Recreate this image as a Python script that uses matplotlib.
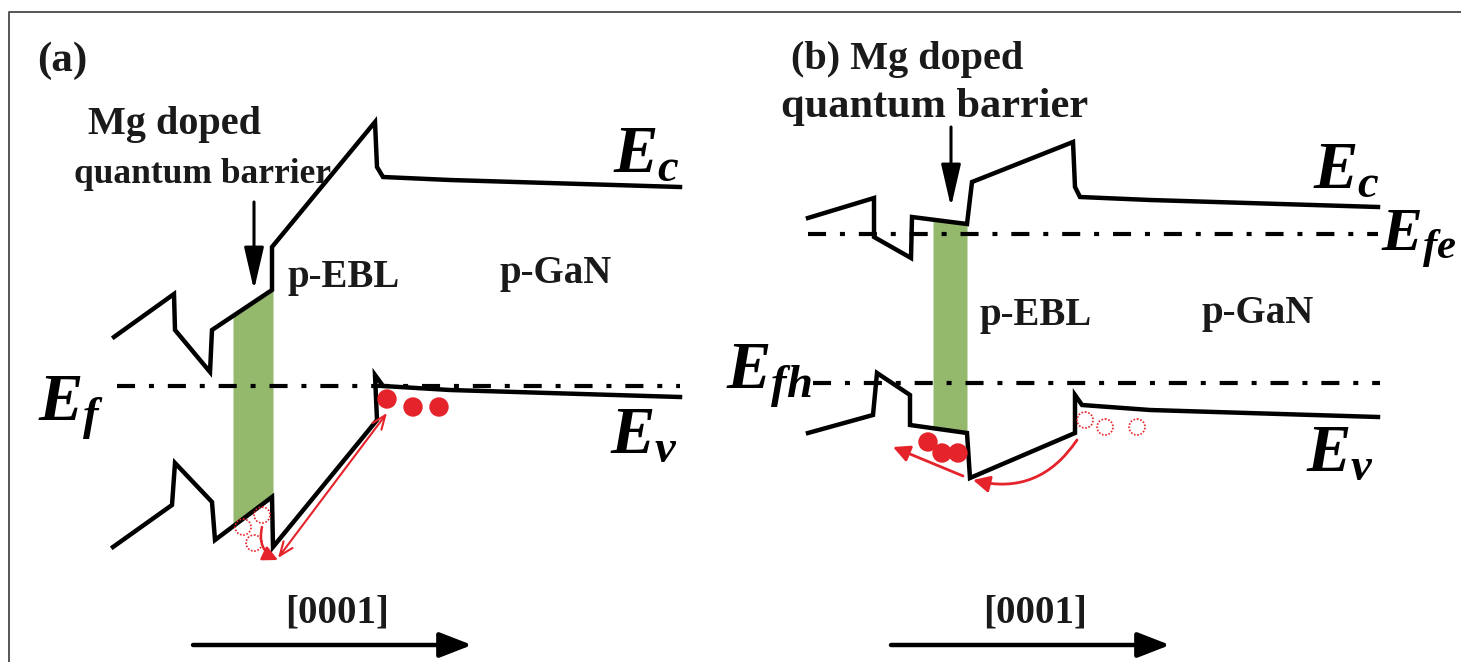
import numpy as np
import matplotlib
matplotlib.use("Agg")
import matplotlib.pyplot as plt
from matplotlib.patches import Circle

plt.rcParams['font.family'] = ['Liberation Serif', 'DejaVu Serif']
plt.rcParams['font.weight'] = 'bold'
plt.rcParams['mathtext.fontset'] = 'custom'
plt.rcParams['mathtext.it'] = 'Liberation Serif:italic:bold'
plt.rcParams['mathtext.rm'] = 'Liberation Serif:bold'
plt.rcParams['lines.scale_dashes'] = False

# band edges (pixel units, y down)
ec_a_x = [114, 174, 175, 210, 212, 272, 272, 375, 377, 383, 450, 680]
ec_a_y = [337, 294, 330, 372, 330, 290, 247, 122, 167, 177, 180, 187]
ev_a_x = [113, 172, 175, 212, 215, 272, 273, 377, 375, 383, 450, 680]
ev_a_y = [547, 505, 463, 502, 540, 497, 547, 420, 375, 386, 390, 397]
ef_a_x = [117, 680]
ef_a_y = [386, 386]

ec_b_x = [808, 874, 874, 911, 912, 967, 972, 1073, 1075, 1080, 1150, 1378]
ec_b_y = [218, 198, 237, 258, 217, 224, 182, 142, 187, 197, 200, 207]
ev_b_x = [808, 873, 877, 910, 910, 967, 970, 1075, 1075, 1082, 1150, 1378]
ev_b_y = [433, 415, 373, 395, 425, 433, 478, 433, 395, 405, 410, 417]
efe_b_x = [808, 1378]
efe_b_y = [234, 234]
efh_b_x = [813, 1380]
efh_b_y = [383, 383]

# Mg doped quantum barrier regions
qb_a_x = [233, 273]
qb_a_top = [317, 290]
qb_a_bot = [525, 497]
qb_b_x = [933, 967]
qb_b_top = [220, 224]
qb_b_bot = [428, 433]

# holes
holes_a = [(387, 399), (413, 407), (439, 407)]
empty_a = [(243, 527), (262, 515), (254, 543)]
holes_b = [(928, 442), (942, 453), (958, 453)]
empty_b = [(1085, 420), (1105, 427), (1137, 427)]

black = 'black'
red = '#e5232b'
green = '#94b86c'

fig = plt.figure(figsize=(14.61, 6.62), dpi=100)
ax = fig.add_axes([0, 0, 1, 1])
ax.set_xlim(0, 1461)
ax.set_ylim(662, 0)
ax.axis('off')

# frame
ax.plot([9, 9, 1461], [662, 12, 12], color='#555555', lw=1.4)

# green barrier
ax.fill_between(qb_a_x, qb_a_top, qb_a_bot, color=green, lw=0, zorder=1)
ax.fill_between(qb_b_x, qb_b_top, qb_b_bot, color=green, lw=0, zorder=1)

band_kw = dict(color=black, lw=3.2, solid_joinstyle='miter', zorder=3)
ax.plot(ec_a_x, ec_a_y, **band_kw)
ax.plot(ev_a_x, ev_a_y, **band_kw)
ax.plot(ec_b_x, ec_b_y, **band_kw)
ax.plot(ev_b_x, ev_b_y, **band_kw)

dd = dict(color=black, lw=3.0, dashes=(13, 10, 3.6, 10), zorder=2)
ax.plot(ef_a_x, ef_a_y, **dd)
ax.plot(efe_b_x, efe_b_y, **dd)
ax.plot(efh_b_x, efh_b_y, **dd)

for (x, y) in holes_a + holes_b:
    ax.add_patch(Circle((x, y), 9, color=red, zorder=4))
for (x, y) in empty_a + empty_b:
    ax.add_patch(Circle((x, y), 8, fill=False, ec=red, lw=1.2, ls=(0, (1.2, 1.2)), zorder=4))

# red arrows
ax.annotate('', xy=(387, 413), xytext=(278, 558),
            arrowprops=dict(arrowstyle='<->,head_length=0.5,head_width=0.2', color=red, lw=1.5,
                            shrinkA=0, shrinkB=0, mutation_scale=20))
ax.annotate('', xy=(278, 560), xytext=(262, 527),
            arrowprops=dict(arrowstyle='-|>,head_length=0.5,head_width=0.25', color=red, lw=1.8,
                            shrinkA=0, shrinkB=0, mutation_scale=18,
                            connectionstyle='arc3,rad=0.4'))
ax.annotate('', xy=(893, 447), xytext=(963, 476),
            arrowprops=dict(arrowstyle='-|>,head_length=0.5,head_width=0.25', color=red, lw=2,
                            shrinkA=0, shrinkB=0, mutation_scale=20))
ax.annotate('', xy=(973, 480), xytext=(1077, 440),
            arrowprops=dict(arrowstyle='-|>,head_length=0.5,head_width=0.25', color=red, lw=2,
                            shrinkA=0, shrinkB=0, mutation_scale=20,
                            connectionstyle='arc3,rad=-0.35'))

# black arrows
vk = dict(arrowstyle='-|>,head_length=1.3,head_width=0.3', color=black, lw=2.2,
          shrinkA=0, shrinkB=0, mutation_scale=20)
ax.annotate('', xy=(254, 290), xytext=(254, 202), arrowprops=vk)
ax.annotate('', xy=(951, 207), xytext=(951, 127), arrowprops=vk)
hk = dict(arrowstyle='-|>,head_length=0.9,head_width=0.35', color=black, lw=3.2,
          shrinkA=0, shrinkB=0, mutation_scale=22)
ax.annotate('', xy=(472, 645), xytext=(193, 645), arrowprops=hk)
ax.annotate('', xy=(1170, 645), xytext=(891, 645), arrowprops=hk)

# text
tk = dict(fontsize=28, fontweight='bold', color='#1a1a1a', ha='center', va='baseline')
ax.text(62, 71, '(a)', **dict(tk, fontsize=31))
ax.text(174, 134, 'Mg doped', **dict(tk, fontsize=29))
ax.text(202, 183, 'quantum barrier', **dict(tk, fontsize=25.5))
ax.text(344, 287, 'p-EBL', **tk)
ax.text(556, 283, 'p-GaN', **tk)
ax.text(337, 623, '[0001]', **tk)

tb = dict(tk, fontsize=29)
ax.text(907, 69, '(b) Mg doped', **tb)
ax.text(935, 117, 'quantum barrier', **dict(tk, fontsize=30.5))
ax.text(1036, 325, 'p-EBL', **tk)
ax.text(1258, 323, 'p-GaN', **tk)
ax.text(1035, 623, '[0001]', **tk)

ek = dict(fontsize=48, color=black, ha='left', va='baseline')
ax.text(613, 172, r'$E_c$', **ek)
ax.text(610, 453, r'$E_v$', **ek)
ax.text(38, 421, r'$E_f$', **ek)
ax.text(1313, 188, r'$E_c$', **ek)
ax.text(1381, 251, r'$E_{fe}$', **dict(ek, fontsize=44))
ax.text(1306, 471, r'$E_v$', **ek)
ax.text(726, 389, r'$E_{fh}$', **ek)

fig.savefig('out.png', dpi=100)
